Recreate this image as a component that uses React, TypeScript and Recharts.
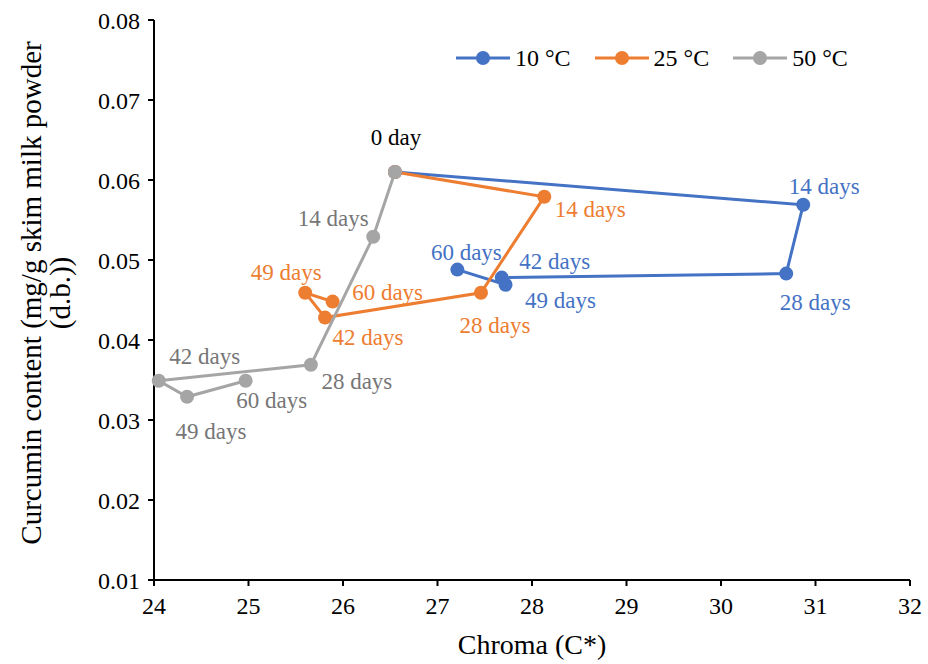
import React from 'react';
import { Scatter, ScatterChart, XAxis, YAxis } from 'recharts';

type point = {
    x: number
    y: number
    i: number
};

const FONT = '"Liberation Serif", "Times New Roman", serif';

const days = [0, 14, 28, 42, 49, 60];
const names = ['10 °C', '25 °C', '50 °C'];
const COLORS = ['#4472C4', '#ED7D31', '#A5A5A5'];
const LABEL_COLORS = ['#4472C4', '#ED7D31', '#767676'];

const chroma10 = [26.55, 30.87, 30.69, 27.68, 27.72, 27.21];
const curcumin10 = [0.061, 0.0569, 0.0483, 0.0478, 0.0469, 0.0488];
const chroma25 = [26.55, 28.13, 27.46, 25.81, 25.6, 25.89];
const curcumin25 = [0.061, 0.0579, 0.0459, 0.0428, 0.0459, 0.0448];
const chroma50 = [26.55, 26.32, 25.66, 24.05, 24.35, 24.97];
const curcumin50 = [0.061, 0.0529, 0.0369, 0.0349, 0.0329, 0.0349];

const xTicks = [24, 25, 26, 27, 28, 29, 30, 31, 32];
const yTicks = [0.01, 0.02, 0.03, 0.04, 0.05, 0.06, 0.07, 0.08];

// where each day label sits relative to its marker (px), null = no label
const labelOffsets: (number[] | null)[][] = [
    [null, [21, -18], [29, 29], [53, -16], [55, 16], [9, -17]],
    [null, [46, 13], [14, 33], [43, 20], [-19, -20], [55, -9]],
    [[1, -35], [-40, -18], [46, 17], [46, -24], [24, 35], [26, 20]]
];

const toPoints = (xs: number[], ys: number[]): point[] => xs.map((x, i) => ({ x, y: ys[i], i }));

const seriesData = [
    toPoints(chroma10, curcumin10),
    toPoints(chroma25, curcumin25),
    toPoints(chroma50, curcumin50)
];

const dayLabel = (d: number) => (d === 0 ? '0 day' : `${d} days`);

const makeShape = (s: number) => (props: any) => {
    const { cx, cy, payload } = props;
    const off = labelOffsets[s][payload.i];
    return (
        <g>
            <circle cx={cx} cy={cy} r={7} fill={COLORS[s]}/>
            {off && (
                <text
                    x={cx + off[0]}
                    y={cy + off[1]}
                    textAnchor="middle"
                    dominantBaseline="central"
                    fontFamily={FONT}
                    fontSize={23}
                    fill={days[payload.i] === 0 ? '#000' : LABEL_COLORS[s]}>
                    {dayLabel(days[payload.i])}
                </text>
            )}
        </g>
    );
};

const ChartLegend = () => (
    <div style={{ position: 'absolute', top: 46, left: 455, display: 'flex', fontFamily: FONT, fontSize: 24, color: '#000', lineHeight: '24px' }}>
        {names.map((n, s) => (
            <div key={n} style={{ display: 'flex', alignItems: 'center', marginRight: 23 }}>
                <svg width={56} height={16}>
                    <line x1={1} y1={8} x2={55} y2={8} stroke={COLORS[s]} strokeWidth={3}/>
                    <circle cx={28} cy={8} r={7} fill={COLORS[s]}/>
                </svg>
                <span style={{ marginLeft: 4 }}>{n}</span>
            </div>
        ))}
    </div>
);

export default function App(): JSX.Element {
    return (
        <div style={{ position: 'absolute', left: 0, top: 0, width: 928, height: 664, background: '#fff' }}>
            <ScatterChart width={928} height={664} margin={{ top: 20, right: 18, bottom: 0, left: 0 }}>
                <XAxis
                    type="number"
                    dataKey="x"
                    domain={[24, 32]}
                    ticks={xTicks}
                    interval={0}
                    height={84}
                    tickSize={6}
                    tickMargin={11}
                    stroke="#000"
                    strokeWidth={2}
                    tick={{ fill: '#000', fontFamily: FONT, fontSize: 24 }}
                    label={{ value: 'Chroma (C*)', position: 'insideBottom', offset: 10, fill: '#000', fontFamily: FONT, fontSize: 28 }}/>
                <YAxis
                    type="number"
                    dataKey="y"
                    domain={[0.01, 0.08]}
                    ticks={yTicks}
                    interval={0}
                    width={154}
                    tickSize={6}
                    tickMargin={8}
                    stroke="#000"
                    strokeWidth={2}
                    tickFormatter={(v: number) => v.toFixed(2)}
                    tick={{ fill: '#000', fontFamily: FONT, fontSize: 24 }}
                    label={{
                        content: () => (
                            <g fontFamily={FONT} fontSize={29} fill="#000">
                                <text x={31} y={293} transform="rotate(-90 31 293)" textAnchor="middle" dominantBaseline="central">
                                    Curcumin content (mg/g skim milk powder
                                </text>
                                <text x={60} y={293} transform="rotate(-90 60 293)" textAnchor="middle" dominantBaseline="central">
                                    (d.b.))
                                </text>
                            </g>
                        )
                    }}/>
                {seriesData.map((d, s) => (
                    <Scatter
                        key={names[s]}
                        name={names[s]}
                        data={d}
                        fill={COLORS[s]}
                        line={{ stroke: COLORS[s], strokeWidth: 3 }}
                        lineType="joint"
                        shape={makeShape(s)}
                        isAnimationActive={false}/>
                ))}
            </ScatterChart>
            <ChartLegend/>
        </div>
    );
}
